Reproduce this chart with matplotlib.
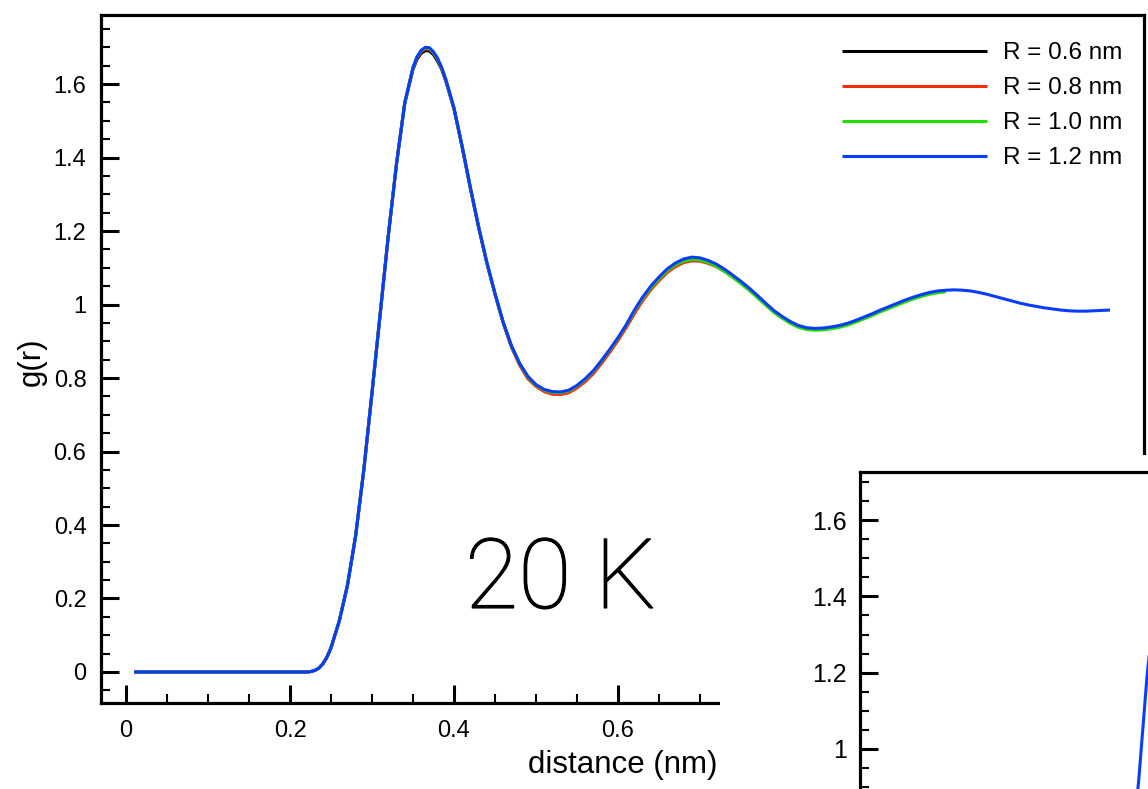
import matplotlib
matplotlib.use("Agg")
import matplotlib.pyplot as plt
import matplotlib.patheffects as pe
from matplotlib.patches import Rectangle
from matplotlib.ticker import MultipleLocator, FixedLocator, FuncFormatter

plt.rcParams["font.family"] = ["Liberation Sans", "DejaVu Sans"]

# ---- radial distribution data -------------------------------------------
r_grid = [0.01, 0.05, 0.10, 0.15, 0.20, 0.21, 0.22, 0.225, 0.23, 0.235,
          0.24, 0.245, 0.25, 0.26, 0.27, 0.28, 0.29, 0.30, 0.31, 0.32,
          0.33, 0.34, 0.35, 0.355, 0.36, 0.365, 0.37, 0.375, 0.38, 0.385,
          0.39, 0.40, 0.41, 0.42, 0.43, 0.44, 0.45, 0.46, 0.47, 0.48,
          0.49, 0.50, 0.51, 0.52, 0.53, 0.54, 0.55, 0.56, 0.57, 0.58,
          0.59, 0.60,
          0.61, 0.62, 0.63, 0.64, 0.65, 0.66, 0.67, 0.68, 0.69, 0.70,
          0.71, 0.72, 0.73, 0.74, 0.75, 0.76, 0.77, 0.78, 0.79, 0.80,
          0.81, 0.82, 0.83, 0.84, 0.85, 0.86, 0.87, 0.88, 0.89, 0.90,
          0.91, 0.92, 0.93, 0.94, 0.95, 0.96, 0.97, 0.98, 0.99, 1.00,
          1.01, 1.02, 1.03, 1.04, 1.05, 1.06, 1.07, 1.08, 1.09, 1.10,
          1.11, 1.12, 1.13, 1.14, 1.15, 1.16, 1.17, 1.18, 1.19, 1.20]

g_06 = [0, 0, 0, 0, 0, 0, 0, 0.001, 0.004, 0.010,
        0.022, 0.040, 0.066, 0.138, 0.235, 0.37, 0.55, 0.76, 0.975, 1.19,
        1.385, 1.548, 1.64, 1.668, 1.684, 1.691, 1.690, 1.680, 1.662, 1.640,
        1.608, 1.532, 1.428, 1.316, 1.21, 1.114, 1.029, 0.951, 0.887, 0.839,
        0.803, 0.780, 0.767, 0.761, 0.760, 0.765, 0.778, 0.796, 0.818, 0.846,
        0.876, 0.908]

g_08 = [0, 0, 0, 0, 0, 0, 0, 0.001, 0.004, 0.010,
        0.022, 0.040, 0.066, 0.138, 0.235, 0.37, 0.55, 0.76, 0.975, 1.19,
        1.385, 1.55, 1.643, 1.672, 1.688, 1.696, 1.695, 1.684, 1.666, 1.642,
        1.611, 1.534, 1.429, 1.317, 1.211, 1.114, 1.028, 0.949, 0.884, 0.835,
        0.798, 0.777, 0.763, 0.756, 0.755, 0.760, 0.773, 0.790, 0.812, 0.840,
        0.870, 0.902,
        0.937, 0.975, 1.010, 1.040, 1.065, 1.087, 1.103, 1.114, 1.119, 1.118,
        1.112, 1.103, 1.090, 1.075, 1.058, 1.040, 1.020, 1.000, 0.980, 0.964]

g_10 = [0, 0, 0, 0, 0, 0, 0, 0.001, 0.004, 0.010,
        0.022, 0.040, 0.066, 0.138, 0.235, 0.37, 0.55, 0.76, 0.975, 1.19,
        1.385, 1.55, 1.645, 1.674, 1.691, 1.698, 1.697, 1.686, 1.668, 1.644,
        1.612, 1.535, 1.43, 1.318, 1.212, 1.115, 1.03, 0.951, 0.887, 0.839,
        0.803, 0.780, 0.767, 0.761, 0.760, 0.765, 0.778, 0.796, 0.818, 0.846,
        0.876, 0.908,
        0.943, 0.982, 1.016, 1.045, 1.070, 1.092, 1.108, 1.118, 1.123, 1.121,
        1.114, 1.104, 1.090, 1.074, 1.057, 1.039, 1.019, 0.999, 0.979, 0.963,
        0.949, 0.938, 0.932, 0.930, 0.931, 0.934, 0.938, 0.944, 0.952, 0.961,
        0.970, 0.980, 0.989, 0.998, 1.007, 1.015, 1.022, 1.028, 1.032, 1.035]

g_12 = [0, 0, 0, 0, 0, 0, 0, 0.001, 0.004, 0.010,
        0.022, 0.040, 0.066, 0.138, 0.235, 0.37, 0.55, 0.76, 0.975, 1.19,
        1.385, 1.55, 1.645, 1.675, 1.692, 1.700, 1.699, 1.688, 1.670, 1.645,
        1.613, 1.535, 1.43, 1.318, 1.212, 1.115, 1.03, 0.952, 0.888, 0.840,
        0.805, 0.782, 0.769, 0.763, 0.762, 0.767, 0.780, 0.798, 0.820, 0.848,
        0.878, 0.910,
        0.945, 0.985, 1.020, 1.050, 1.075, 1.097, 1.113, 1.124, 1.129, 1.127,
        1.120, 1.110, 1.096, 1.080, 1.063, 1.045, 1.025, 1.004, 0.984, 0.968,
        0.954, 0.943, 0.937, 0.935, 0.936, 0.939, 0.943, 0.949, 0.957, 0.966,
        0.975, 0.985, 0.994, 1.003, 1.012, 1.020, 1.027, 1.033, 1.037, 1.039,
        1.040, 1.039, 1.037, 1.033, 1.028, 1.022, 1.016, 1.010, 1.004, 0.999,
        0.995, 0.991, 0.988, 0.985, 0.983, 0.982, 0.982, 0.983, 0.984, 0.985]

series_labels = ["R = 0.6 nm", "R = 0.8 nm", "R = 1.0 nm", "R = 1.2 nm"]
series_values = [g_06, g_08, g_10, g_12]
series_colors = ["#000000", "#ff2a00", "#22dd00", "#0a3cff"]

# second panel (another temperature): rising edge of its first peak
inset_r = [0.28, 0.29, 0.30, 0.31, 0.32, 0.33, 0.34]
inset_g = [0.33, 0.50, 0.70, 0.92, 1.19, 1.40, 1.57]

x_major = [0, 0.2, 0.4, 0.6]
inset_y_major = [1, 1.2, 1.4, 1.6]

# ---- figure ----------------------------------------------------------------
W, H = 1148, 789
fig = plt.figure(figsize=(W / 100, H / 100), dpi=100)


def fx(px):
    return px / W


def fy(py):
    return 1 - py / H


ax_l, ax_r, ax_t, ax_b = 101, 1143.5, 15, 703
ax = fig.add_axes([fx(ax_l), fy(ax_b), fx(ax_r) - fx(ax_l), fy(ax_t) - fy(ax_b)])
ax.set_zorder(0)

for vals, lab, col in zip(series_values, series_labels, series_colors):
    ax.plot(r_grid[:len(vals)], vals, color=col, lw=2.2, label=lab,
            solid_capstyle="butt", solid_joinstyle="round")

ax.set_xlim(-0.0305, 1.2409)
ax.set_ylim(-0.0844, 1.788)

fmt = FuncFormatter(lambda v, _: f"{v:g}")
ax.xaxis.set_major_locator(FixedLocator(x_major))
ax.xaxis.set_minor_locator(MultipleLocator(0.05))
ax.yaxis.set_major_locator(MultipleLocator(0.2))
ax.yaxis.set_minor_locator(MultipleLocator(0.05))
ax.xaxis.set_major_formatter(fmt)
ax.yaxis.set_major_formatter(fmt)

ax.tick_params(which="both", direction="in", top=False, right=False, colors="black")
ax.tick_params(which="major", length=13, width=2.2, labelsize=17)
ax.tick_params(which="minor", length=6.5, width=1.5)
ax.tick_params(axis="y", which="major", pad=10.5)
ax.tick_params(axis="x", which="major", pad=12)
for s in ax.spines.values():
    s.set_linewidth(2.3)
    s.set_color("black")

ax.set_xlabel("distance (nm)", fontsize=22.5)
ax.xaxis.set_label_coords((717 - ax_l) / (ax_r - ax_l), (ax_b - 765) / (ax_b - ax_t))
ax.xaxis.label.set_ha("right")
ax.xaxis.label.set_va("center")

ax.set_ylabel("g(r)", fontsize=22.5)
ax.yaxis.set_label_coords((32 - ax_l) / (ax_r - ax_l), (ax_b - 362) / (ax_b - ax_t))
ax.yaxis.label.set_va("center")

ax.legend(loc="upper left", bbox_to_anchor=(fx(842), fy(42)),
          bbox_transform=fig.transFigure, frameon=False, fontsize=17.5,
          handlelength=5.97, handletextpad=0.66, labelspacing=0.535,
          borderpad=0, borderaxespad=0)

# white panel holding the second plot
fig.add_artist(Rectangle((fx(720), 0), 1 - fx(720), fy(455),
                         transform=fig.transFigure, facecolor="white",
                         edgecolor="none", zorder=1))

in_w, in_h = 1000, 700
axi = fig.add_axes([fx(860), fy(472) - in_h / H, in_w / W, in_h / H])
axi.set_zorder(2)
axi.plot(inset_r, inset_g, color=series_colors[-1], lw=2.2)
axi.set_xlim(-0.03, -0.03 + in_w / 820)
axi.set_ylim(1.726 - in_h / 381.5, 1.726)
axi.yaxis.set_major_locator(FixedLocator(inset_y_major))
axi.yaxis.set_minor_locator(MultipleLocator(0.05))
axi.xaxis.set_major_locator(FixedLocator(x_major))
axi.xaxis.set_minor_locator(MultipleLocator(0.05))
axi.yaxis.set_major_formatter(fmt)
axi.tick_params(which="both", direction="in", top=False, right=False,
                labelbottom=False)
axi.tick_params(which="major", length=13, width=2.2, labelsize=18, pad=9.5)
axi.tick_params(which="minor", length=6.5, width=1.5)
for s in axi.spines.values():
    s.set_linewidth(2.3)

fig.text(fx(465), fy(608), "20 K", fontsize=70, family=["Roboto", "DejaVu Sans"],
         fontweight="light", ha="left", va="baseline", zorder=5,
         path_effects=[pe.withStroke(linewidth=0.8, foreground="black")])

fig.savefig("out.png", dpi=100)
